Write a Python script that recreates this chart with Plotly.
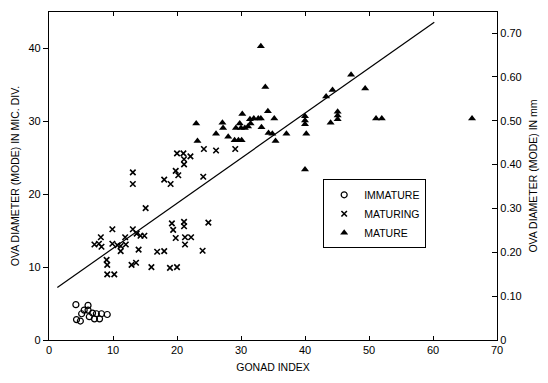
import plotly.graph_objects as go

# ---- data ----
immature_x = [4.2, 6.1, 5.5, 5.1, 6.1, 6.8, 7.4, 8.2, 9.1, 6.3, 7.1, 7.9, 4.3, 4.9]
immature_y = [4.85, 4.75, 4.1, 3.6, 4.1, 3.7, 3.6, 3.6, 3.5, 3.2, 2.9, 2.9, 2.8, 2.6]

maturing_x = [7.1, 7.8, 8.1, 8.2, 9.0, 9.1, 9.1, 10.2, 9.9, 9.9, 10.7, 11.2, 11.2, 11.9,
              12.0, 13.1, 13.7, 14.3, 14.9, 14.0, 12.9, 13.6, 13.1, 13.1, 15.1, 16.0,
              16.9, 18.0, 18.9, 20.0, 18.0, 19.0, 19.8, 20.2, 20.0, 21.0, 21.1, 21.1,
              22.1, 19.2, 19.4, 19.8, 21.1, 21.1, 21.25, 22.2, 21.25, 24.1, 24.2, 26.1,
              29.1, 24.9, 24.0]
maturing_y = [13.1, 13.2, 14.1, 12.8, 11.0, 10.3, 9.0, 9.0, 15.2, 13.2, 13.0, 12.9, 12.2, 14.1,
              13.1, 15.2, 14.6, 14.3, 14.3, 12.4, 10.3, 10.6, 21.4, 23.0, 18.1, 10.0,
              12.1, 12.2, 9.9, 10.0, 22.0, 21.4, 23.2, 22.6, 25.6, 25.6, 24.8, 24.1,
              25.2, 16.0, 15.1, 14.0, 16.2, 15.6, 14.1, 14.1, 13.1, 22.4, 26.2, 26.0,
              26.2, 16.1, 12.25]

mature_x = [23.0, 23.2, 26.1, 27.1, 27.2, 28.0, 29.0, 29.6, 30.1, 29.2, 29.8, 30.0, 30.2,
            30.6, 31.1, 31.5, 31.4, 32.0, 32.7, 33.1, 33.2, 33.1, 33.8, 34.2, 35.2, 34.3,
            34.9, 35.4, 37.1, 40.0, 40.0, 40.0, 40.2, 40.0, 43.3, 44.3, 44.0, 45.1, 45.1,
            45.1, 47.2, 49.4, 51.1, 52.0, 66.1]
mature_y = [29.7, 27.3, 28.3, 29.8, 29.1, 27.9, 27.4, 27.4, 27.4, 29.1, 29.7, 29.1, 31.0,
            29.1, 29.3, 29.7, 30.3, 30.4, 30.4, 30.4, 29.2, 40.3, 34.7, 31.4, 30.4, 28.4,
            28.3, 27.3, 28.3, 30.7, 30.1, 29.6, 28.3, 23.4, 33.4, 34.3, 29.8, 31.3, 30.8,
            30.3, 36.4, 34.5, 30.4, 30.4, 30.4]

fit_x = [1.3, 60.2]
fit_y = [7.2, 43.6]

x_ticks = [0, 10, 20, 30, 40, 50, 60, 70]
y_ticks = [0, 10, 20, 30, 40]
mm_ticks = [0, 0.10, 0.20, 0.30, 0.40, 0.50, 0.60, 0.70]
mm_labels = ["0", "0.10", "0.20", "0.30", "0.40", "0.50", "0.60", "0.70"]
MM_PER_DIV = 0.01662

FONT = "Liberation Sans"

fig = go.Figure()
fig.add_trace(go.Scatter(x=fit_x, y=fit_y, mode="lines",
                         line=dict(color="black", width=1.2), showlegend=False))
fig.add_trace(go.Scatter(x=immature_x, y=immature_y, mode="markers", name="IMMATURE",
                         marker=dict(symbol="circle-open", size=6, color="black",
                                     line=dict(width=1.2, color="black"))))
fig.add_trace(go.Scatter(x=maturing_x, y=maturing_y, mode="markers", name="MATURING",
                         marker=dict(symbol="x-thin-open", size=5.5, color="black",
                                     line=dict(width=1.6, color="black"))))
fig.add_trace(go.Scatter(x=mature_x, y=mature_y, mode="markers", name="MATURE",
                         marker=dict(symbol="triangle-up", size=7, color="black")))
# invisible trace for right axis
fig.add_trace(go.Scatter(x=[0], y=[0], yaxis="y2", mode="markers",
                         marker=dict(opacity=0), showlegend=False, hoverinfo="skip"))

fig.update_layout(
    width=548, height=383,
    margin=dict(l=49, r=51, t=11, b=38),
    paper_bgcolor="white", plot_bgcolor="white",
    font=dict(family=FONT, color="black", size=11),
    xaxis=dict(range=[0, 70], tickvals=x_ticks, showgrid=False, zeroline=False,
               showline=True, linecolor="black", linewidth=1.2, mirror="ticks",
               ticks="inside", ticklen=4, tickcolor="black",
               title=dict(text="GONAD INDEX", font=dict(size=10.5), standoff=8)),
    yaxis=dict(range=[0, 45], tickvals=y_ticks, showgrid=False, zeroline=False,
               showline=True, linecolor="black", linewidth=1.2,
               ticks="outside", ticklen=5, tickcolor="black",
               title=dict(text="OVA DIAMETER (MODE) IN MIC. DIV.", font=dict(size=10.5),
                          standoff=6)),
    yaxis2=dict(range=[0, 45 * MM_PER_DIV], overlaying="y", side="right",
                tickvals=mm_ticks, ticktext=mm_labels, showgrid=False, zeroline=False,
                showline=True, linecolor="black", linewidth=1.2,
                ticks="inside", ticklen=5, tickcolor="black",
                title=dict(text="OVA DIAMETER (MODE) IN mm", font=dict(size=10.5),
                           standoff=8)),
    legend=dict(x=0.612, y=0.49, xanchor="left", yanchor="top",
                bordercolor="black", borderwidth=1, bgcolor="white",
                font=dict(size=10.5), tracegroupgap=0, itemwidth=30),
)

fig.write_html("out.html")
